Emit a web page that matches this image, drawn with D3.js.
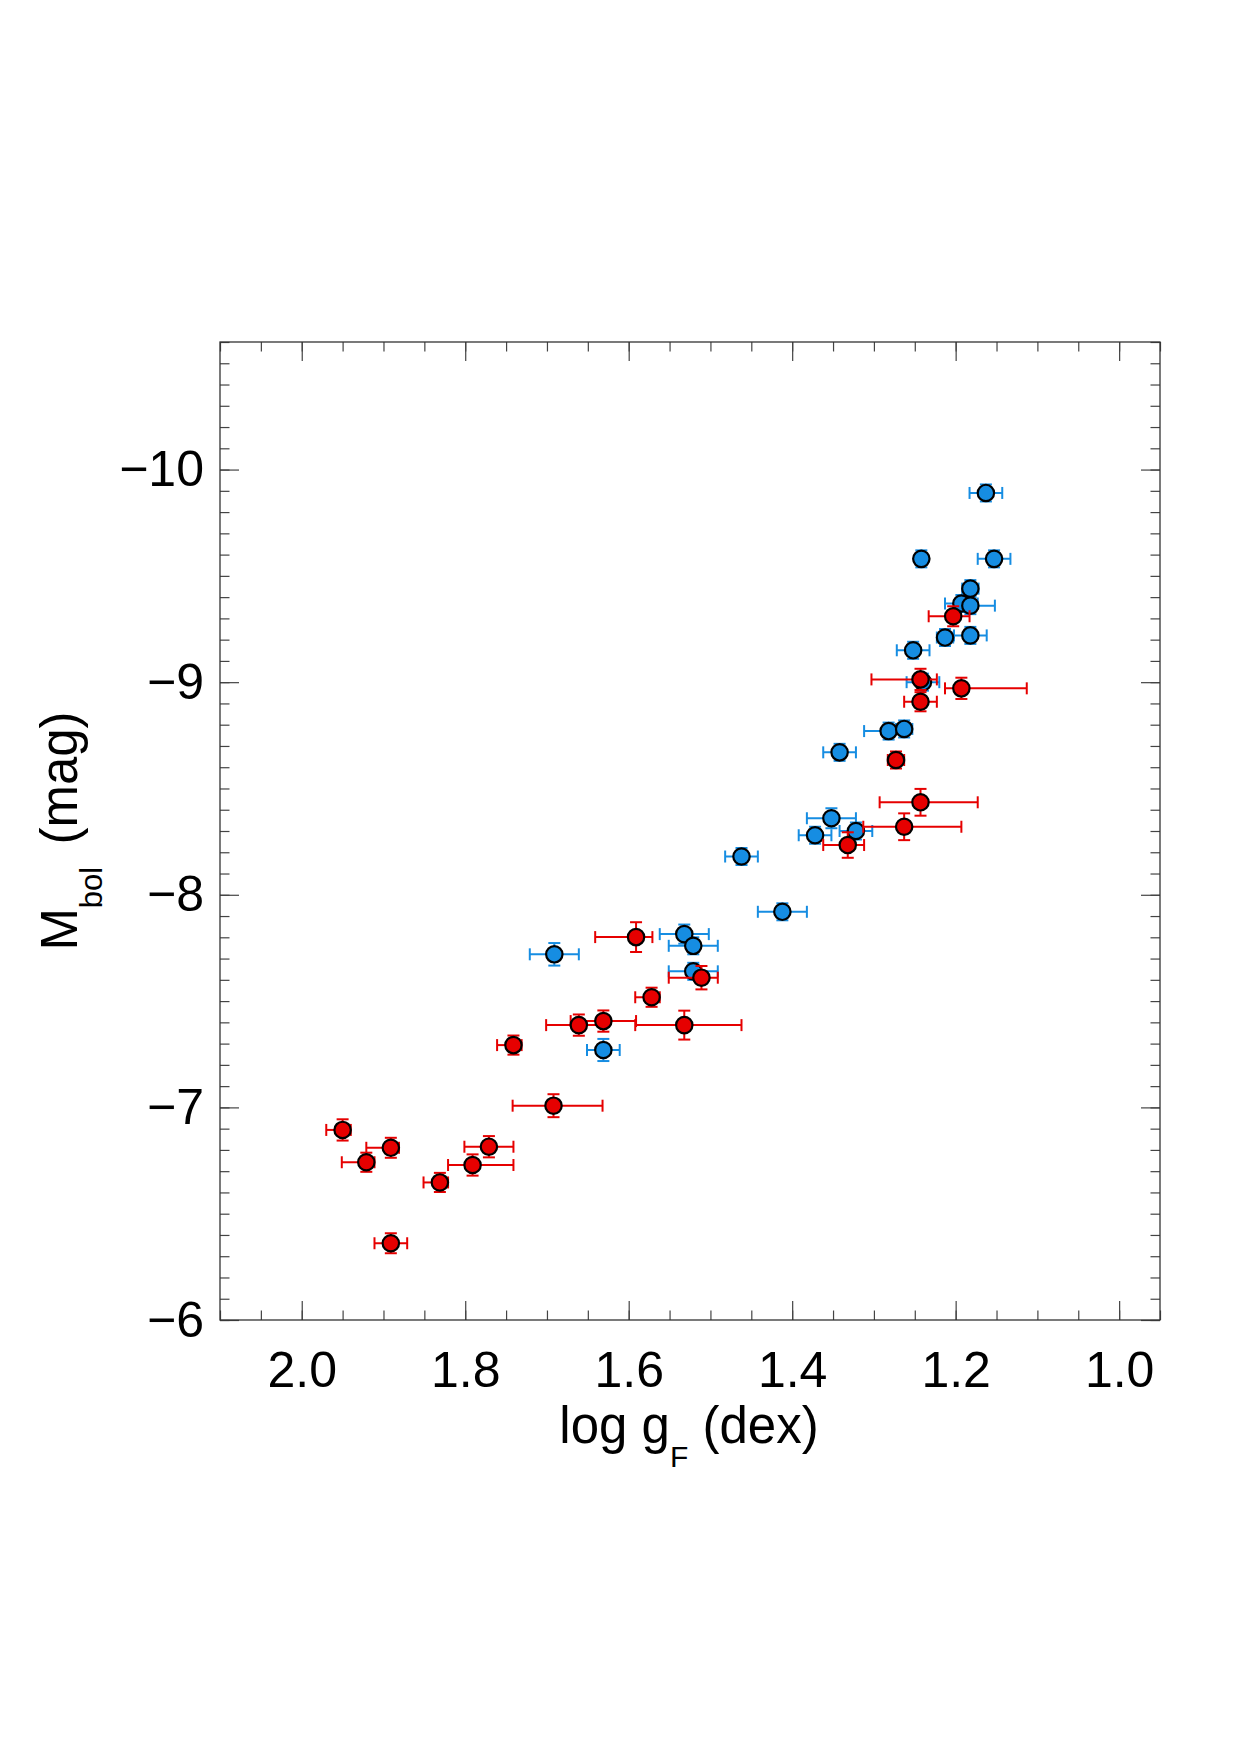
<!DOCTYPE html>
<html>
<head>
<meta charset="utf-8">
<script src="https://cdn.jsdelivr.net/npm/d3@7"></script>
<style>
  body { margin: 0; background: #fff; }
  svg { display: block; font-family: "Liberation Sans", Arial, Helvetica, sans-serif; }
</style>
</head>
<body>
<div id="chart"></div>
<script>
// blue sample
const blueLogg = [1.163, 1.242, 1.153, 1.182, 1.193, 1.182, 1.213, 1.182, 1.252, 1.24, 1.282, 1.263,
  1.342, 1.352, 1.372, 1.322, 1.462, 1.412, 1.532, 1.521, 1.691, 1.521, 1.631];
const blueMbol = [-9.89, -9.58, -9.58, -9.44, -9.37, -9.36, -9.21, -9.22, -9.15, -9.00, -8.77, -8.78,
  -8.67, -8.36, -8.28, -8.30, -8.18, -7.92, -7.815, -7.76, -7.72, -7.64, -7.27];
const blueXerrMinus = [0.02, 0.005, 0.02, 0.01, 0.02, 0.03, 0.01, 0.02, 0.02, 0.02, 0.02, 0.01,
  0.02, 0.03, 0.02, 0.02, 0.02, 0.03, 0.03, 0.03, 0.03, 0.03, 0.02];
const blueXerrPlus = [0.02, 0.005, 0.02, 0.01, 0.02, 0.02, 0.01, 0.02, 0.02, 0.02, 0.03, 0.01,
  0.02, 0.03, 0.02, 0.02, 0.02, 0.03, 0.03, 0.03, 0.03, 0.03, 0.02];
const blueYerr = [0.04, 0.04, 0.04, 0.04, 0.04, 0.04, 0.04, 0.04, 0.04, 0.04, 0.04, 0.04,
  0.04, 0.047, 0.04, 0.04, 0.04, 0.04, 0.045, 0.04, 0.053, 0.04, 0.052];

// red sample
const redLogg = [1.203, 1.243, 1.193, 1.243, 1.273, 1.243, 1.263, 1.332, 1.591, 1.511, 1.572, 1.661,
  1.631, 1.532, 1.741, 1.692, 1.95, 1.891, 1.921, 1.771, 1.791, 1.831, 1.891];
const redMbol = [-9.31, -9.013, -8.971, -8.908, -8.634, -8.435, -8.32, -8.234, -7.801, -7.61, -7.518, -7.387,
  -7.406, -7.387, -7.293, -7.008, -6.894, -6.81, -6.742, -6.815, -6.729, -6.647, -6.361];
const redXerrMinus = [0.02, 0.02, 0.08, 0.02, 0.01, 0.07, 0.07, 0.02, 0.02, 0.02, 0.01, 0.03,
  0.04, 0.07, 0.01, 0.06, 0.01, 0.01, 0.01, 0.03, 0.05, 0.01, 0.02];
const redXerrPlus = [0.03, 0.06, 0.02, 0.02, 0.01, 0.05, 0.05, 0.03, 0.05, 0.04, 0.02, 0.04,
  0.04, 0.06, 0.02, 0.05, 0.02, 0.03, 0.03, 0.03, 0.03, 0.02, 0.02];
const redYerr = [0.047, 0.05, 0.05, 0.045, 0.04, 0.063, 0.063, 0.06, 0.07, 0.055, 0.045, 0.05,
  0.05, 0.068, 0.045, 0.054, 0.05, 0.047, 0.045, 0.05, 0.05, 0.045, 0.047];

// axis ticks
const xTicks = [2.0, 1.8, 1.6, 1.4, 1.2, 1.0];
const yTicks = [-6, -7, -8, -9, -10];

const width = 1241, height = 1754;
const plotLeft = 220, plotRight = 1160, plotTop = 342, plotBottom = 1320;

const blueColor = "#168de2";
const redColor = "#e60000";

const svg = d3.select("#chart").append("svg")
  .attr("width", width)
  .attr("height", height);

svg.append("rect").attr("width", width).attr("height", height).attr("fill", "#fff");

const x = d3.scaleLinear().domain([2.1, 0.95]).range([plotLeft, plotRight]);
const y = d3.scaleLinear().domain([-6, -10.6]).range([plotBottom, plotTop]);

const xMinor = d3.range(19, 43).map(i => i * 0.05);
const yMinor = d3.range(60, 107).map(i => -i / 10);

function styleAxis(g) {
  g.select(".domain").remove();
  g.selectAll(".tick line").attr("stroke", "#444").attr("stroke-width", 1.2);
  g.selectAll(".tick text").attr("font-size", 50).attr("fill", "#000")
    .attr("font-family", "Liberation Sans, Arial, sans-serif");
}

// minor ticks, all four sides
svg.append("g").attr("transform", `translate(0,${plotBottom})`)
  .call(d3.axisBottom(x).tickValues(xMinor).tickFormat("").tickSize(-9.5)).call(styleAxis);
svg.append("g").attr("transform", `translate(0,${plotTop})`)
  .call(d3.axisTop(x).tickValues(xMinor).tickFormat("").tickSize(-9.5)).call(styleAxis);
svg.append("g").attr("transform", `translate(${plotLeft},0)`)
  .call(d3.axisLeft(y).tickValues(yMinor).tickFormat("").tickSize(-9.5)).call(styleAxis);
svg.append("g").attr("transform", `translate(${plotRight},0)`)
  .call(d3.axisRight(y).tickValues(yMinor).tickFormat("").tickSize(-9.5)).call(styleAxis);

// major ticks
svg.append("g").attr("transform", `translate(0,${plotBottom})`)
  .call(d3.axisBottom(x).tickValues(xTicks).tickFormat(d3.format(".1f")).tickSize(-19).tickPadding(31))
  .call(styleAxis);
svg.append("g").attr("transform", `translate(0,${plotTop})`)
  .call(d3.axisTop(x).tickValues(xTicks).tickFormat("").tickSize(-19)).call(styleAxis);
svg.append("g").attr("transform", `translate(${plotLeft},0)`)
  .call(d3.axisLeft(y).tickValues(yTicks).tickFormat(d3.format("d")).tickSize(-19).tickPadding(16))
  .call(styleAxis);
svg.append("g").attr("transform", `translate(${plotRight},0)`)
  .call(d3.axisRight(y).tickValues(yTicks).tickFormat("").tickSize(-19)).call(styleAxis);

// frame
svg.append("rect")
  .attr("x", plotLeft).attr("y", plotTop)
  .attr("width", plotRight - plotLeft).attr("height", plotBottom - plotTop)
  .attr("fill", "none").attr("stroke", "#333").attr("stroke-width", 1.3);

// series
function drawSeries(logg, mbol, xm, xp, ye, color) {
  const data = logg.map((d, i) => ({ g: d, m: mbol[i], xm: xm[i], xp: xp[i], ye: ye[i] }));
  const cap = 6;
  const eb = svg.append("g").attr("stroke", color).attr("stroke-width", 2).attr("fill", "none");

  const pts = eb.selectAll("g").data(data).join("g");
  // horizontal bar + caps
  pts.append("line")
    .attr("x1", d => x(d.g + d.xp)).attr("x2", d => x(d.g - d.xm))
    .attr("y1", d => y(d.m)).attr("y2", d => y(d.m));
  pts.append("line")
    .attr("x1", d => x(d.g + d.xp)).attr("x2", d => x(d.g + d.xp))
    .attr("y1", d => y(d.m) - cap).attr("y2", d => y(d.m) + cap);
  pts.append("line")
    .attr("x1", d => x(d.g - d.xm)).attr("x2", d => x(d.g - d.xm))
    .attr("y1", d => y(d.m) - cap).attr("y2", d => y(d.m) + cap);
  // vertical bar + caps
  pts.append("line")
    .attr("x1", d => x(d.g)).attr("x2", d => x(d.g))
    .attr("y1", d => y(d.m - d.ye)).attr("y2", d => y(d.m + d.ye));
  pts.append("line")
    .attr("x1", d => x(d.g) - cap).attr("x2", d => x(d.g) + cap)
    .attr("y1", d => y(d.m - d.ye)).attr("y2", d => y(d.m - d.ye));
  pts.append("line")
    .attr("x1", d => x(d.g) - cap).attr("x2", d => x(d.g) + cap)
    .attr("y1", d => y(d.m + d.ye)).attr("y2", d => y(d.m + d.ye));

  svg.append("g").selectAll("circle").data(data).join("circle")
    .attr("cx", d => x(d.g))
    .attr("cy", d => y(d.m))
    .attr("r", 8.2)
    .attr("fill", color)
    .attr("stroke", "#000")
    .attr("stroke-width", 2.2);
}

drawSeries(blueLogg, blueMbol, blueXerrMinus, blueXerrPlus, blueYerr, blueColor);
drawSeries(redLogg, redMbol, redXerrMinus, redXerrPlus, redYerr, redColor);

// axis titles
const xt = svg.append("text")
  .attr("transform", "translate(689,1443)")
  .attr("text-anchor", "middle")
  .attr("font-size", 51)
  .attr("fill", "#000");
xt.append("tspan").text("log g");
xt.append("tspan").attr("dy", 24).attr("font-size", 30).text("F");
xt.append("tspan").attr("dy", -24).text(" (dex)");

const yt = svg.append("text")
  .attr("transform", "translate(77,831) rotate(-90)")
  .attr("text-anchor", "middle")
  .attr("font-size", 51)
  .attr("fill", "#000");
yt.append("tspan").text("M");
yt.append("tspan").attr("dy", 25).attr("font-size", 31).text("bol");
yt.append("tspan").attr("dy", -25).attr("dx", 8).text(" (mag)");
</script>
</body>
</html>
